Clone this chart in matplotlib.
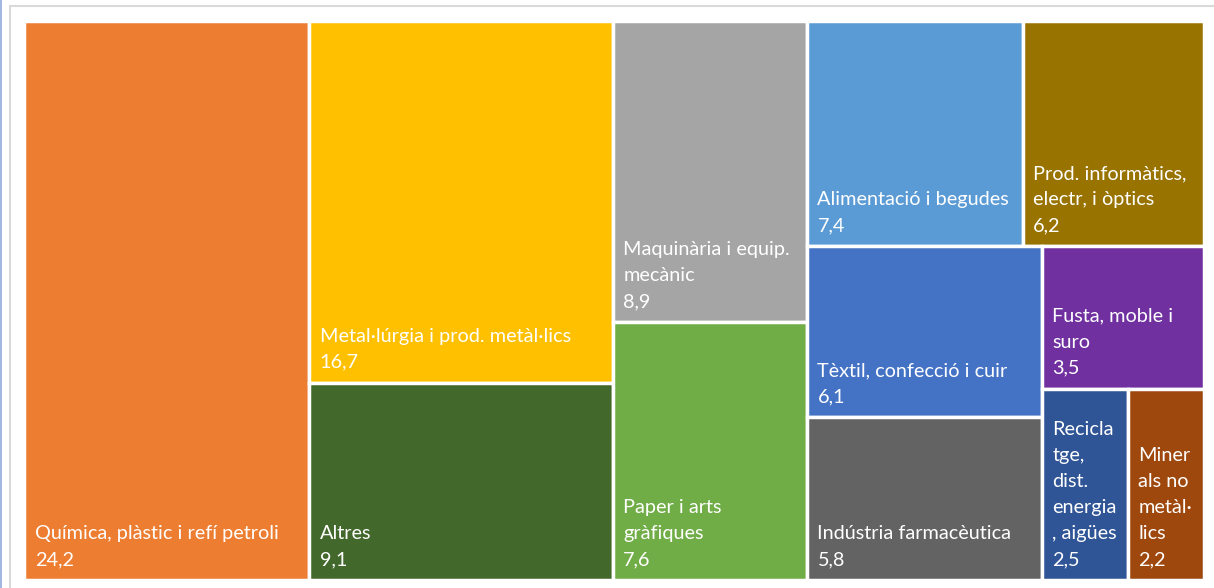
import matplotlib.pyplot as plt
from matplotlib.patches import Rectangle

plt.rcParams['font.family'] = ['Lato', 'DejaVu Sans']

# sectors (labels wrapped as in the chart) and their shares
sectors = ["Química, plàstic i refí petroli",
           "Metal·lúrgia i prod. metàl·lics",
           "Altres",
           "Maquinària i equip.\nmecànic",
           "Paper i arts\ngràfiques",
           "Alimentació i begudes",
           "Prod. informàtics,\nelectr, i òptics",
           "Tèxtil, confecció i cuir",
           "Indústria farmacèutica",
           "Fusta, moble i\nsuro",
           "Recicla\ntge,\ndist.\nenergia\n, aigües",
           "Miner\nals no\nmetàl·\nlics"]
values = [24.2, 16.7, 9.1, 8.9, 7.6, 7.4, 6.2, 6.1, 5.8, 3.5, 2.5, 2.2]
colors = ['#ED7D31', '#FFC000', '#43682B', '#A5A5A5', '#70AD47', '#5B9BD5',
          '#997300', '#4472C4', '#636363', '#7030A0', '#2F5597', '#9E480E']

# how the tiles are grouped into strips (squarified order)
strips = [[0], [1, 2], [3, 4], [5, 6], [7, 8], [9], [10, 11]]

fig = plt.figure(figsize=(12.14, 5.88), dpi=100)

# chart frame
fig.add_artist(Rectangle((9.5 / 1214, -0.1), 1.2, 1 - 5.5 / 588 + 0.1,
                         transform=fig.transFigure, fill=False,
                         edgecolor='#D9D9D9', lw=1.5))
fig.add_artist(plt.Line2D([0.5 / 1214, 0.5 / 1214], [0, 1], transform=fig.transFigure,
                          color='#8FAADC', lw=1.2))

left, right, top, bottom = 24.5, 1203.5, 20.5, 580
ax = fig.add_axes([left / 1214, 1 - bottom / 588, (right - left) / 1214, (bottom - top) / 588])
W, H = right - left, bottom - top
ax.set_xlim(0, W)
ax.set_ylim(H, 0)
ax.axis('off')

x, y, w, h = 0.0, 0.0, W, H
remaining = sum(values)
for strip in strips:
    s = sum(values[i] for i in strip)
    if w >= h:
        # vertical strip at the left
        sw = w * s / remaining
        yy = y
        cells = []
        for i in strip:
            ch = h * values[i] / s
            cells.append((i, x, yy, sw, ch))
            yy += ch
        x += sw
        w -= sw
    else:
        # horizontal strip at the top
        sh = h * s / remaining
        xx = x
        cells = []
        for i in strip:
            cw = w * values[i] / s
            cells.append((i, xx, y, cw, sh))
            xx += cw
        y += sh
        h -= sh
    remaining -= s
    for i, cx, cy, cw, ch in cells:
        ax.add_patch(Rectangle((cx, cy), cw, ch, facecolor=colors[i],
                               edgecolor='white', lw=2.5))
        label = sectors[i] + "\n" + f"{values[i]:.1f}".replace('.', ',')
        ax.text(cx + 10.5, cy + ch - 12, label, color='white', fontsize=14.3,
                ha='left', va='bottom', linespacing=1.64)

fig.savefig('out.png', dpi=100)
